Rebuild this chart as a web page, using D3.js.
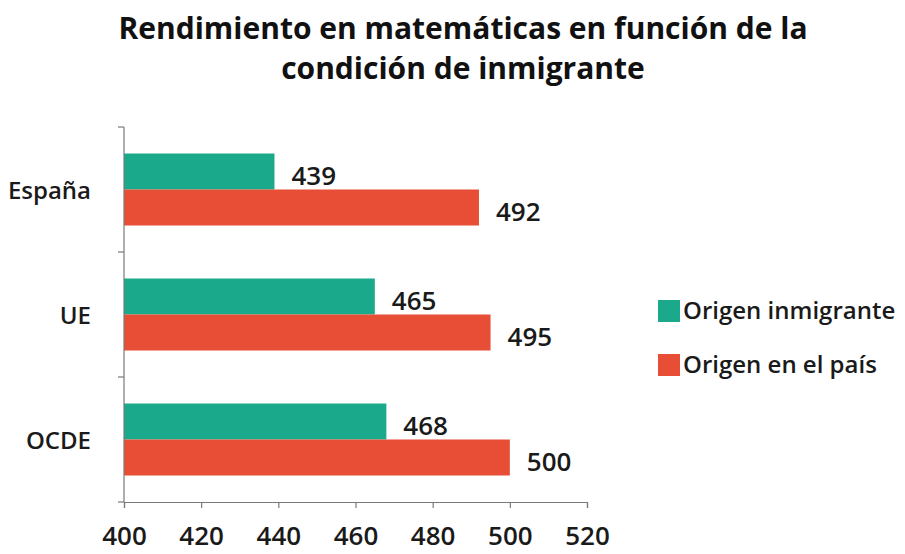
<!DOCTYPE html>
<html>
<head>
  <meta charset='utf-8' />
  <title>Rendimiento en matemáticas</title>
  <style>
    html, body { margin: 0; padding: 0; background: #fff; }
    body { font-family: 'Open Sans', sans-serif; }
    .title { font-weight: 700; font-size: 30px; fill: #111; }
    .cat { font-weight: 600; font-size: 24px; fill: #1a1a1a; }
    .val { font-weight: 600; font-size: 26px; fill: #1a1a1a; }
    .legend-text { font-weight: 600; font-size: 24px; fill: #1a1a1a; }
    .x-axis text { font-family: 'Open Sans', sans-serif; font-size: 26px; font-weight: 600; fill: #1a1a1a; }
    .x-axis path, .x-axis line, .y-line { stroke: #7a7a7a; stroke-width: 1.2; }
  </style>
</head>
<body>
<svg id='chart' width='905' height='554'></svg>
<script src="https://d3js.org/d3.v7.min.js"></script>
<script>
  // data
  const categories = ['España', 'UE', 'OCDE']
  const seriesNames = ['Origen inmigrante', 'Origen en el país']
  const inmigrante = [439, 465, 468]
  const nativo = [492, 495, 500]
  const xTicks = [400, 420, 440, 460, 480, 500, 520]
  const titleLines = ['Rendimiento en matemáticas en función de la', 'condición de inmigrante']
  const colors = ['#1aa98a', '#e84d36']

  const svg = d3.select('#chart')

  // plot area
  const plot = { left: 124, right: 587, top: 127, bottom: 502 }

  const x = d3.scaleLinear()
    .domain([400, 520])
    .range([plot.left, plot.right])

  const y = d3.scaleBand()
    .domain(categories)
    .range([plot.top, plot.bottom])
    .paddingInner(0.424)
    .paddingOuter(0.212)

  const ySub = d3.scaleBand()
    .domain([0, 1])
    .range([0, y.bandwidth()])

  // title
  svg.append('g').selectAll('text')
    .data(titleLines)
    .enter()
    .append('text')
    .attr('class', 'title')
    .attr('x', 463)
    .attr('y', (d, i) => 39 + i * 40)
    .attr('text-anchor', 'middle')
    .text(d => d)

  // bars
  const rows = categories.map((c, i) => ({ cat: c, values: [inmigrante[i], nativo[i]] }))

  const groups = svg.append('g').selectAll('g')
    .data(rows)
    .enter()
    .append('g')
    .attr('transform', d => 'translate(0,' + y(d.cat) + ')')

  groups.selectAll('rect')
    .data(d => d.values.map((v, j) => ({ v, j })))
    .enter()
    .append('rect')
    .attr('x', x(400))
    .attr('y', d => ySub(d.j))
    .attr('width', d => x(d.v) - x(400))
    .attr('height', ySub.bandwidth())
    .style('fill', d => colors[d.j])

  groups.selectAll('text')
    .data(d => d.values.map((v, j) => ({ v, j })))
    .enter()
    .append('text')
    .attr('class', 'val')
    .attr('x', d => x(d.v) + 17)
    .attr('y', d => ySub(d.j) + ySub.bandwidth() / 2 + 13)
    .text(d => d.v)

  // x axis
  svg.append('g')
    .attr('class', 'x-axis')
    .attr('transform', 'translate(0,' + plot.bottom + ')')
    .call(d3.axisBottom(x).tickValues(xTicks).tickSize(6).tickSizeOuter(6).tickPadding(19))

  // y axis: line plus ticks at category boundaries
  const yg = svg.append('g')
  yg.append('line')
    .attr('class', 'y-line')
    .attr('x1', plot.left).attr('x2', plot.left)
    .attr('y1', plot.top).attr('y2', plot.bottom)
  yg.selectAll('.ytick')
    .data(d3.range(categories.length + 1))
    .enter()
    .append('line')
    .attr('class', 'y-line')
    .attr('x1', plot.left - 6).attr('x2', plot.left)
    .attr('y1', i => plot.top + i * y.step())
    .attr('y2', i => plot.top + i * y.step())

  yg.selectAll('.cat')
    .data(categories)
    .enter()
    .append('text')
    .attr('class', 'cat')
    .attr('x', 91)
    .attr('y', d => y(d) + y.bandwidth() / 2 + 9)
    .attr('text-anchor', 'end')
    .text(d => d)

  // legend
  const legend = svg.append('g').selectAll('g')
    .data(seriesNames)
    .enter()
    .append('g')
    .attr('transform', (d, i) => 'translate(658,' + (300 + i * 54) + ')')

  legend.append('rect')
    .attr('width', 22)
    .attr('height', 22)
    .style('fill', (d, i) => colors[i])

  legend.append('text')
    .attr('class', 'legend-text')
    .attr('x', 25)
    .attr('y', 19)
    .text(d => d)
</script>
</body>
</html>
